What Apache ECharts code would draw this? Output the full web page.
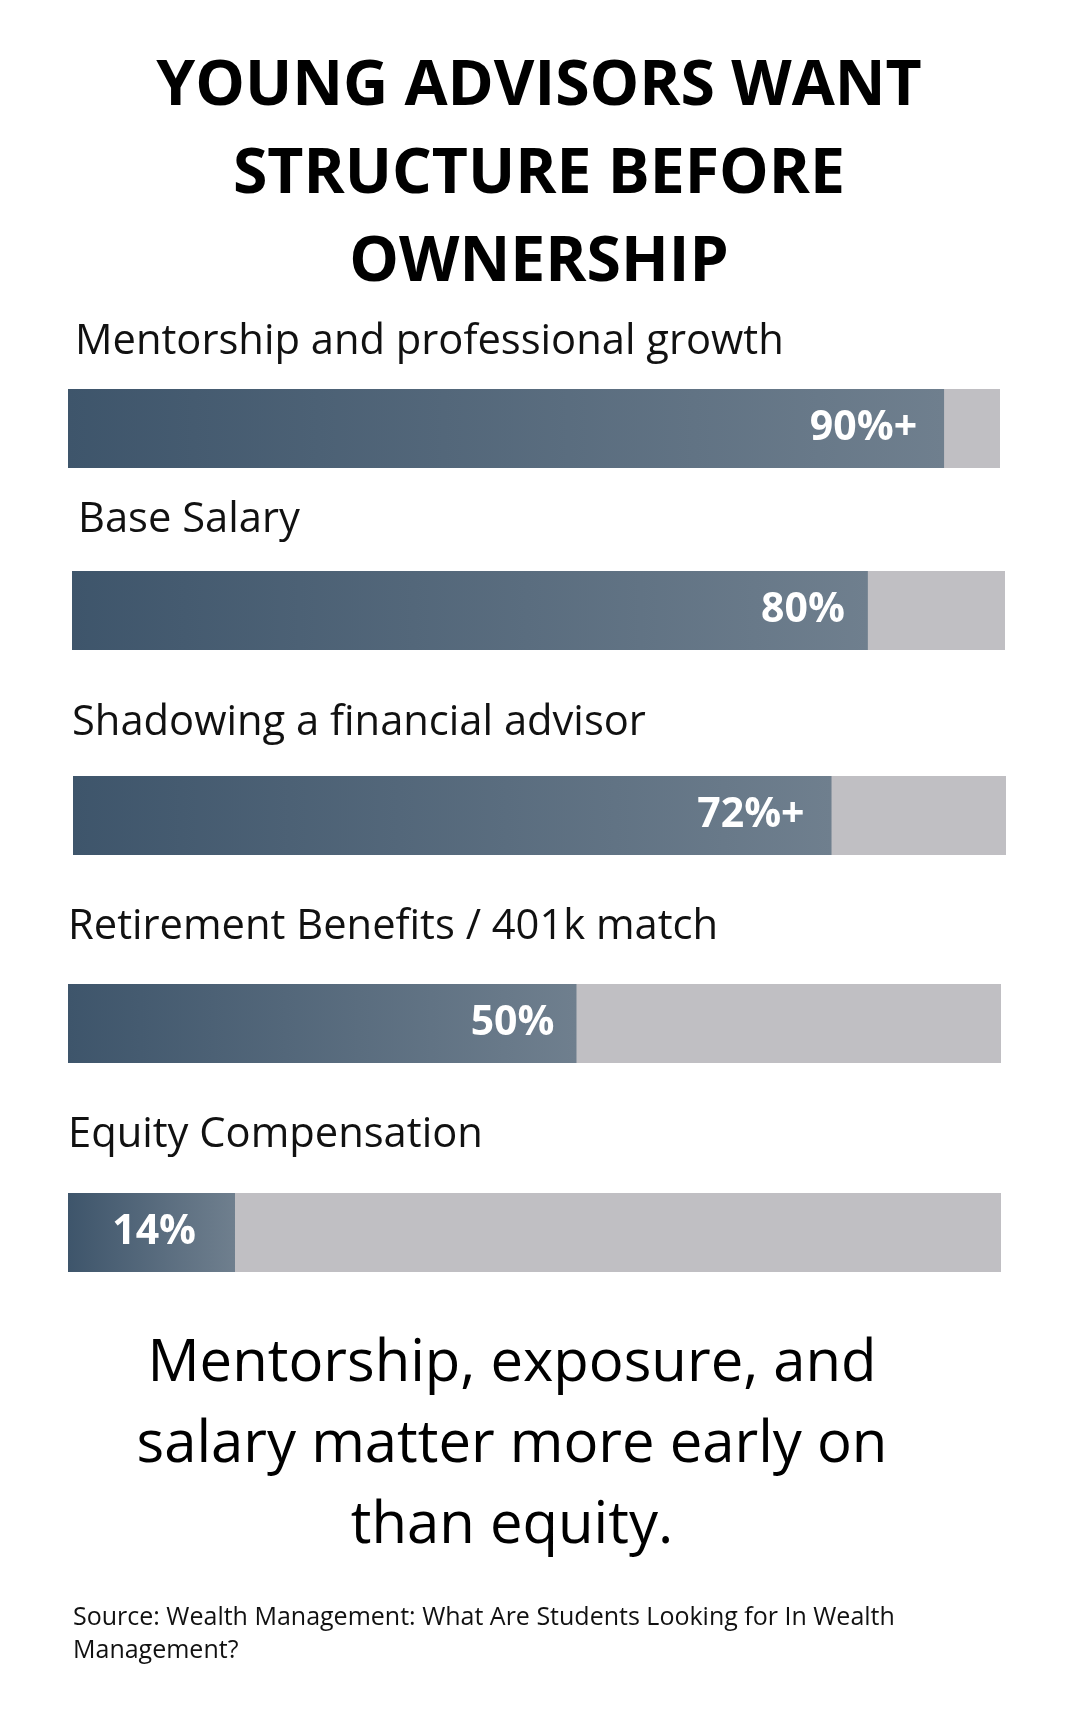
<!DOCTYPE html>
<html>
<head>
<meta charset="utf-8">
<title>Young advisors want structure before ownership</title>
<script src="https://cdn.jsdelivr.net/npm/echarts@6/dist/echarts.min.js"></script>
<style>
  html, body { margin: 0; padding: 0; background: #fff; }
  #chart { width: 1078px; height: 1715px; }
</style>
</head>
<body>
<div id="chart"></div>
<script>
// data
const categories = [
  'Mentorship and professional growth',
  'Base Salary',
  'Shadowing a financial advisor',
  'Retirement Benefits / 401k match',
  'Equity Compensation'
]
// drawn bar lengths (% of the grey track)
const barValues = [94, 85.3, 81.3, 54.5, 17.9]
const valueLabels = ['90%+', '80%', '72%+', '50%', '14%']
const trackMax = 100

// layout per row (px)
const rowTop = [389, 571, 776, 984, 1193]
const rowLeft = [68, 72, 73, 68, 68]
const rowRight = [1000, 1005, 1006, 1001, 1001]
const nameX = [75, 78, 72, 68, 68]
const nameBaseline = [358, 536, 739, 943, 1151]
const valuePad = [27, 23, 27, 22, 39]

const BAR_H = 79
const FONT = '"Open Sans", "Noto Sans", sans-serif'
const NAME_SIZE = 41.7

const chart = echarts.init(document.getElementById('chart'), null, {renderer: 'canvas'})

let grids = [], xAxes = [], yAxes = [], series = []
categories.forEach((name, i) => {
  grids.push({left: rowLeft[i], width: rowRight[i] - rowLeft[i], top: rowTop[i], height: BAR_H})
  xAxes.push({type: 'value', gridIndex: i, min: 0, max: trackMax, show: false})
  yAxes.push({type: 'category', gridIndex: i, data: [name], show: false})
  // grey track, carries the row name above it
  series.push({
    type: 'bar',
    xAxisIndex: i,
    yAxisIndex: i,
    data: [trackMax],
    barWidth: BAR_H,
    barGap: '-100%',
    silent: true,
    itemStyle: {color: '#c0bfc3'},
    label: {
      show: true,
      formatter: name,
      position: [nameX[i] - rowLeft[i], nameBaseline[i] - rowTop[i] - 37],
      align: 'left',
      verticalAlign: 'top',
      color: '#111',
      fontFamily: FONT,
      fontSize: NAME_SIZE,
      lineHeight: NAME_SIZE
    },
    z: 1
  })
  series.push({
    type: 'bar',
    xAxisIndex: i,
    yAxisIndex: i,
    data: [barValues[i]],
    barWidth: BAR_H,
    barGap: '-100%',
    silent: true,
    itemStyle: {
      color: new echarts.graphic.LinearGradient(0, 0, 1, 0, [
        {offset: 0, color: '#3e556b'},
        {offset: 1, color: '#6f7f8e'}
      ])
    },
    label: {
      show: true,
      position: 'insideRight',
      distance: valuePad[i],
      formatter: valueLabels[i],
      color: '#fff',
      fontFamily: FONT,
      fontSize: 41,
      fontWeight: 'bold'
    },
    z: 2
  })
})

const option = {
  animation: false,
  backgroundColor: '#fff',
  title: {
    text: 'YOUNG ADVISORS WANT\nSTRUCTURE BEFORE\nOWNERSHIP',
    left: 'center',
    top: 43,
    padding: 0,
    textStyle: {
      fontFamily: FONT,
      fontSize: 62.5,
      fontWeight: 'bold',
      lineHeight: 88,
      color: '#000'
    }
  },
  grid: grids,
  xAxis: xAxes,
  yAxis: yAxes,
  series: series,
  graphic: [
    {
      type: 'text',
      x: 512,
      y: 1324,
      silent: true,
      style: {
        text: 'Mentorship, exposure, and\nsalary matter more early on\nthan equity.',
        align: 'center',
        verticalAlign: 'top',
        fill: '#000',
        font: '58px ' + FONT,
        lineHeight: 81
      }
    },
    {
      type: 'text',
      x: 73,
      y: 1601,
      silent: true,
      style: {
        text: 'Source: Wealth Management: What Are Students Looking for In Wealth\nManagement?',
        align: 'left',
        verticalAlign: 'top',
        fill: '#111',
        font: '25px ' + FONT,
        lineHeight: 33
      }
    }
  ]
}

chart.setOption(option)
</script>
</body>
</html>
